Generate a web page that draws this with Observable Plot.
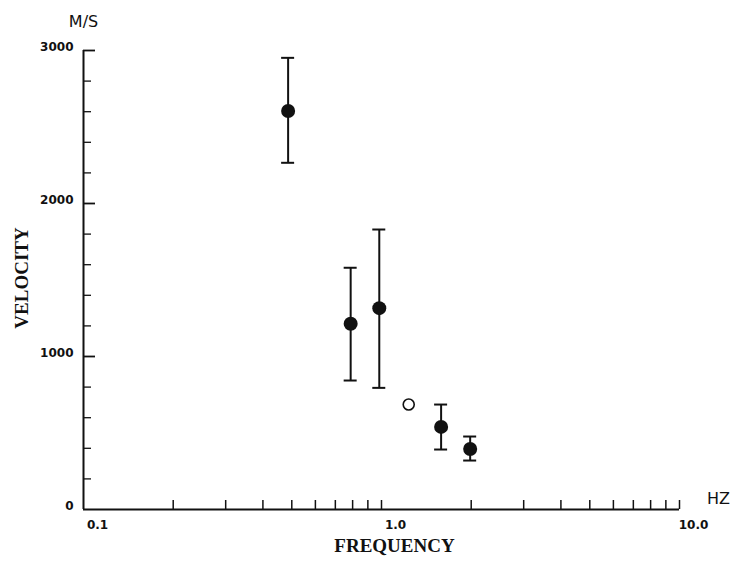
<!DOCTYPE html>
<html>
<head>
<meta charset="utf-8">
<script src="https://cdn.jsdelivr.net/npm/d3@7"></script>
<script src="https://cdn.jsdelivr.net/npm/@observablehq/plot@0.6"></script>
<style>
  html, body { margin: 0; padding: 0; background: #fff; }
  #chart svg { display: block; }
</style>
</head>
<body>
<div id="chart"></div>
<script>
// Measured points (filled dots with error bars)
const frequency = [0.486, 0.788, 0.983, 1.585, 1.984];
const velocity  = [2605, 1214, 1316, 540, 395];
const lower     = [2266, 843, 795, 392, 320];
const upper     = [2952, 1580, 1830, 686, 477];

// Single open-circle point
const openFrequency = [1.234];
const openVelocity  = [686];

// Axis ticks and labels
const xTicks = [0.2, 0.3, 0.4, 0.5, 0.6, 0.7, 0.8, 0.9, 1, 2, 3, 4, 5, 6, 7, 8, 9, 10];
const xLabelValues = [0.1, 1, 10];
const xLabels = ["0.1", "1.0", "10.0"];
const yMinorTicks = [200, 400, 600, 800, 1200, 1400, 1600, 1800, 2200, 2400, 2600, 2800];
const yMajorTicks = [1000, 2000, 3000];
const yLabelValues = [0, 1000, 2000, 3000];
const yLabels = ["0", "1000", "2000", "3000"];

const points = frequency.map((f, i) => ({f, v: velocity[i], lo: lower[i], hi: upper[i]}));
const openPoints = openFrequency.map((f, i) => ({f, v: openVelocity[i]}));

const ink = "#111";
const sans = "DejaVu Sans";
const serif = "Liberation Serif";

const chart = Plot.plot({
  width: 732,
  height: 562,
  marginLeft: 83,
  marginRight: 53,
  marginTop: 50,
  marginBottom: 53,
  x: {type: "log", domain: [0.1, 10], axis: null},
  y: {domain: [0, 3000], axis: null},
  style: {background: "#fff", color: ink},
  marks: [
    // axis lines
    Plot.ruleX([0.1], {stroke: ink, strokeWidth: 2}),
    Plot.ruleY([0], {stroke: ink, strokeWidth: 2}),
    // x ticks (pointing up)
    Plot.ruleX(xTicks, {x: d => d, y1: 0, y2: 0, insetTop: -9, stroke: ink, strokeWidth: 1.5}),
    // y ticks (pointing right)
    Plot.ruleY(yMinorTicks, {y: d => d, x1: 0.1, x2: 0.1, insetRight: -8, stroke: ink, strokeWidth: 1.3}),
    Plot.ruleY(yMajorTicks, {y: d => d, x1: 0.1, x2: 0.1, insetRight: -12, stroke: ink, strokeWidth: 1.8}),
    // tick labels
    Plot.text(yLabelValues, {x: 0.1, y: d => d, text: (d, i) => yLabels[i], textAnchor: "end", dx: -10, dy: -3,
      fontFamily: sans, fontWeight: "bold", fontSize: 12, fill: ink}),
    Plot.text(xLabelValues, {x: d => d, y: 0, text: (d, i) => xLabels[i], textAnchor: "middle", dx: 14, dy: 16,
      fontFamily: sans, fontWeight: "bold", fontSize: 12, fill: ink}),
    // units
    Plot.text(["M/S"], {frameAnchor: "top-left", dx: 0, dy: -35, textAnchor: "middle",
      fontFamily: sans, fontSize: 16, fill: ink}),
    Plot.text(["HZ"], {frameAnchor: "bottom-right", dx: 39, dy: -6, textAnchor: "middle",
      fontFamily: sans, fontSize: 16, fill: ink}),
    // axis titles
    Plot.text(["VELOCITY"], {frameAnchor: "left", dx: -62, dy: -2, rotate: -90, textAnchor: "middle",
      fontFamily: serif, fontWeight: "bold", fontSize: 19, fill: ink}),
    Plot.text(["FREQUENCY"], {frameAnchor: "bottom", dx: 13, dy: 42, textAnchor: "middle",
      fontFamily: serif, fontWeight: "bold", fontSize: 19, fill: ink}),
    // error bars
    Plot.ruleX(points, {x: "f", y1: "lo", y2: "hi", stroke: ink, strokeWidth: 2}),
    Plot.ruleY(points, {y: "hi", x1: "f", x2: "f", insetLeft: -6.5, insetRight: -6.5, stroke: ink, strokeWidth: 2}),
    Plot.ruleY(points, {y: "lo", x1: "f", x2: "f", insetLeft: -6.5, insetRight: -6.5, stroke: ink, strokeWidth: 2}),
    // dots
    Plot.dot(points, {x: "f", y: "v", r: 7, fill: ink, stroke: "none"}),
    Plot.dot(openPoints, {x: "f", y: "v", r: 5.5, fill: "#fff", stroke: ink, strokeWidth: 1.6})
  ]
});

document.getElementById("chart").appendChild(chart);
</script>
</body>
</html>
